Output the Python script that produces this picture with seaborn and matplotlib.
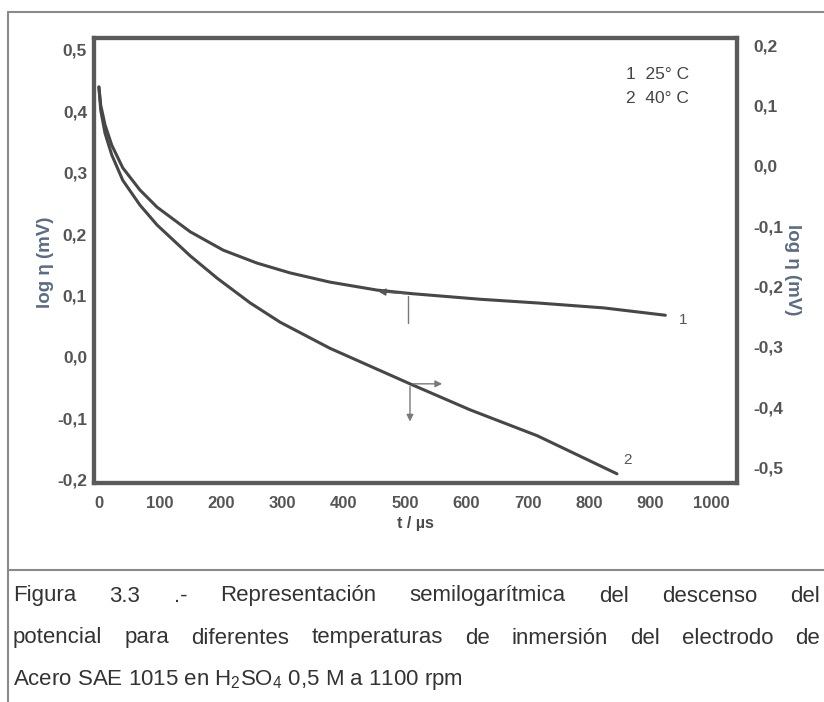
import matplotlib
matplotlib.use("Agg")
import matplotlib.pyplot as plt
from matplotlib.lines import Line2D
import seaborn as sns
import pandas as pd

# ---- data ----
t_curve1 = [0, 3, 10, 21, 39, 67, 95, 149, 203, 258, 312, 377, 454, 513, 623, 716, 824, 925]
logeta_curve1 = [0.440, 0.410, 0.378, 0.345, 0.308, 0.272, 0.244, 0.204, 0.174, 0.153,
                 0.137, 0.122, 0.109, 0.103, 0.094, 0.088, 0.080, 0.068]  # left axis

t_curve2 = [0, 3, 10, 21, 39, 67, 95, 149, 193, 247, 296, 377, 508, 606, 716, 846]
logeta_curve2 = [0.130, 0.092, 0.054, 0.018, -0.024, -0.065, -0.098, -0.149, -0.186,
                 -0.227, -0.259, -0.302, -0.361, -0.404, -0.447, -0.510]  # right axis

x_ticks = [0, 100, 200, 300, 400, 500, 600, 700, 800, 900, 1000]
left_ticks = [0.5, 0.4, 0.3, 0.2, 0.1, 0.0, -0.1, -0.2]
left_labels = ["0,5", "0,4", "0,3", "0,2", "0,1", "0,0", "-0,1", "-0,2"]
right_ticks = [0.2, 0.1, 0.0, -0.1, -0.2, -0.3, -0.4, -0.5]
right_labels = ["0,2", "0,1", "0,0", "-0,1", "-0,2", "-0,3", "-0,4", "-0,5"]
legend_lines = ["1  25° C", "2  40° C"]
caption_lines = [
    "Figura 3.3 .-  Representación semilogarítmica del descenso del",
    "potencial para diferentes temperaturas de inmersión del electrodo de",
    r"Acero SAE 1015 en H$_\mathregular{2}$SO$_\mathregular{4}$ 0,5 M a 1100 rpm",
]

df1 = pd.DataFrame({"t": t_curve1, "v": logeta_curve1})
df2 = pd.DataFrame({"t": t_curve2, "v": logeta_curve2})

sns.set_theme(style="white")
plt.rcParams["font.family"] = ["Liberation Sans", "DejaVu Sans"]
plt.rcParams["mathtext.fontset"] = "custom"
plt.rcParams["mathtext.rm"] = "Liberation Sans"

W, H = 824, 702
fig = plt.figure(figsize=(W / 100, H / 100), dpi=100)
fig.patch.set_facecolor("white")

L, R, T, B = 94, 737, 38, 483
ax = fig.add_axes([L / W, 1 - B / H, (R - L) / W, (B - T) / H])
ax2 = ax.twinx()

line_col = "#474747"
sns.lineplot(data=df1, x="t", y="v", ax=ax, color=line_col, lw=2.2, sort=False)
sns.lineplot(data=df2, x="t", y="v", ax=ax2, color=line_col, lw=2.2, sort=False)

ax.set_xlim(-8, 1042)
ax.set_ylim(-0.2052, 0.5195)
ax2.set_ylim(-0.5252, 0.2116)

tick_col = "#555555"
ax.set_xticks(x_ticks)
ax.set_xticklabels([str(v) for v in x_ticks], fontsize=12, fontweight="bold", color=tick_col)
ax.set_yticks(left_ticks)
ax.set_yticklabels(left_labels, fontsize=12.5, fontweight="bold", color=tick_col)
ax2.set_yticks(right_ticks)
ax2.set_yticklabels(right_labels, fontsize=12.5, fontweight="bold", color=tick_col)
ax.tick_params(axis="y", length=0, pad=5)
ax.tick_params(axis="x", length=0, pad=9)
ax2.tick_params(axis="y", length=0, pad=12)

ax.set_xlabel("t / µs", fontsize=11.5, fontweight="bold", color="#4a4a4a", labelpad=4)
ax.set_ylabel("log η (mV)", fontsize=13.5, fontweight="bold", color="#5a6b86")
ax2.set_ylabel("log η (mV)", fontsize=13.5, fontweight="bold", color="#5a6b86",
               rotation=270)
ax.yaxis.set_label_coords(-0.062, 0.497)
ax2.yaxis.set_label_coords(1.100, 0.479)

for a in (ax, ax2):
    a.grid(False)
    for s in a.spines.values():
        s.set_color("#5a5a5a")
        s.set_linewidth(3)
ax.patch.set_alpha(0)

# legend text
ax.text(0.828, 0.917, legend_lines[0], transform=ax.transAxes, fontsize=12.5,
        color="#444444", va="center", ha="left")
ax.text(0.828, 0.863, legend_lines[1], transform=ax.transAxes, fontsize=12.5,
        color="#444444", va="center", ha="left")

# curve labels
ax.text(954, 0.060, "1", fontsize=11, color="#555555", ha="center", va="center")
ax2.text(864, -0.487, "2", fontsize=11, color="#555555", ha="center", va="center")

# axis indicator arrows
thin = "#7a7a7a"
ax.annotate("", xy=(452, 0.107), xytext=(505, 0.103),
            arrowprops=dict(arrowstyle="-|>", color="#555555", lw=1.2, mutation_scale=10))
ax.plot([505, 505], [0.099, 0.055], color=thin, lw=1)
ax2.annotate("", xy=(565, -0.361), xytext=(508, -0.361),
             arrowprops=dict(arrowstyle="-|>", color=thin, lw=1, mutation_scale=10))
ax2.annotate("", xy=(508, -0.428), xytext=(508, -0.361),
             arrowprops=dict(arrowstyle="-|>", color=thin, lw=1, mutation_scale=10))

# outer figure frame lines
frame_col = "#8a8a8a"
fig.add_artist(Line2D([8 / W, 1.0], [1 - 12 / H, 1 - 12 / H], color=frame_col, lw=1.5))
fig.add_artist(Line2D([8 / W, 8 / W], [1 - 12 / H, 0.0], color=frame_col, lw=1.5))
fig.add_artist(Line2D([8 / W, 1.0], [1 - 570 / H, 1 - 570 / H], color=frame_col, lw=1.5))

# caption (first two lines justified between x=13 and x=820)
cap_col = "#333333"
cap_size = 16
renderer = fig.canvas.get_renderer()
x_left, x_right = 13, 820
line_y = [596, 638, 680]
for i, (line, yp) in enumerate(zip(caption_lines, line_y)):
    if i < 2:
        words = line.split()
        texts = [fig.text(0, 1 - yp / H, w, fontsize=cap_size, color=cap_col,
                          va="center", ha="left") for w in words]
        widths = [t.get_window_extent(renderer).width for t in texts]
        gap = (x_right - x_left - sum(widths)) / (len(words) - 1)
        xp = x_left
        for t, wd in zip(texts, widths):
            t.set_x(xp / W)
            xp += wd + gap
    else:
        fig.text(x_left / W, 1 - yp / H, line, fontsize=cap_size, color=cap_col,
                 va="center", ha="left")

fig.savefig("out.png", dpi=100, facecolor="white")
